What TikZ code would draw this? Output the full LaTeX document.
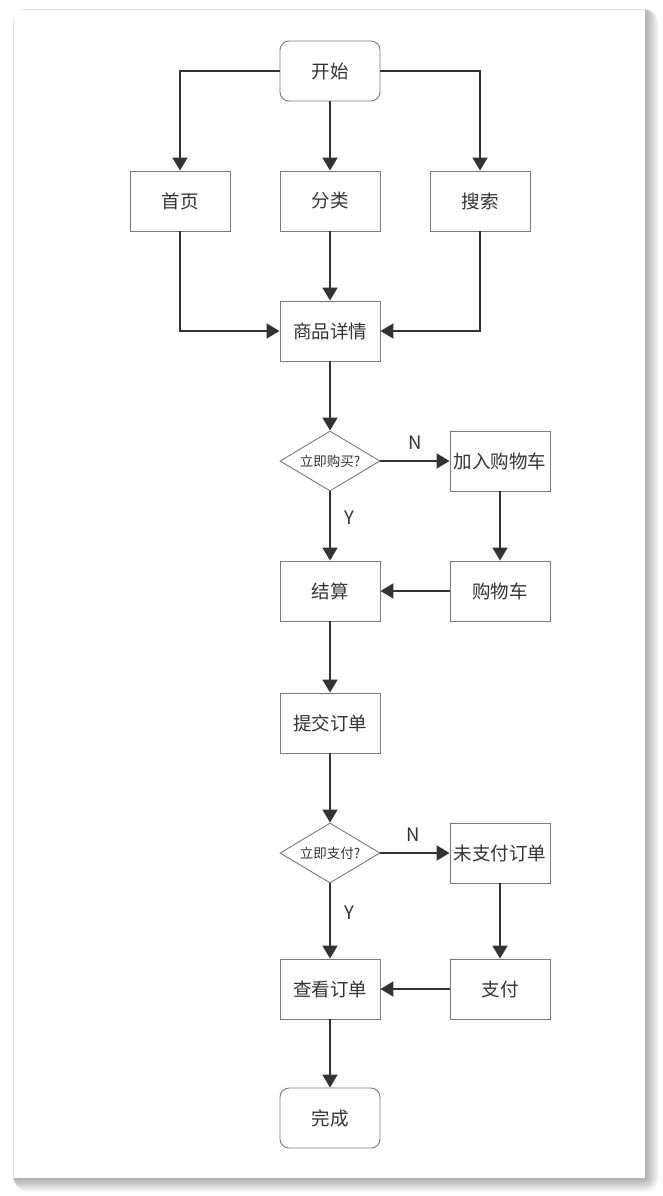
\documentclass[tikz,border=0pt]{standalone}
\usepackage{fontspec}
\setmainfont{Noto Sans CJK SC}
\usetikzlibrary{arrows.meta,shapes.geometric}
\definecolor{ln}{HTML}{333333}
\definecolor{bd}{HTML}{7A7A7A}
\tikzset{
  box/.style={draw=bd, line width=0.9pt, fill=white, minimum width=100pt, minimum height=60pt, inner sep=0pt, font=\fontsize{18.5pt}{20pt}\selectfont, text=ln},
  rbox/.style={box, rounded corners=9pt},
  dec/.style={draw=bd, line width=0.9pt, fill=white, shape=diamond, aspect=1.667, minimum width=100pt, minimum height=60pt, inner sep=0pt, font=\fontsize{13.5pt}{15pt}\selectfont, text=ln},
  conn/.style={draw=ln, line width=1.9pt, -{Triangle[length=13pt,width=15pt]}},
  lab/.style={font=\fontsize{18.5pt}{20pt}\selectfont, text=ln, inner sep=0pt}
}
\begin{document}
\begin{tikzpicture}[x=1pt,y=-1pt]
\useasboundingbox (0,0) rectangle (663,1196);
\fill[white] (0,0) rectangle (663,1196);
% card shadow
\foreach \i in {14,13,...,1}{
  \fill[black,opacity=0.022,rounded corners=\i pt] (14-\i*0.25+\i*0.2,10-\i*0.25+\i*0.2) rectangle (645+\i,1178+\i);
}
\fill[white] (14,10) rectangle (645,1178);
% nodes
\node[rbox] (start) at (330,71) {开始};
\node[box] (home) at (180,201) {首页};
\node[box] (cat) at (330,201) {分类};
\node[box] (search) at (480,201) {搜索};
\node[box] (detail) at (330,331) {商品详情};
\node[dec] (buy) at (330,461) {立即购买?};
\node[box] (addcart) at (500,461) {加入购物车};
\node[box] (settle) at (330,591) {结算};
\node[box] (cart) at (500,591) {购物车};
\node[box] (submit) at (330,723) {提交订单};
\node[dec] (pay) at (330,853) {立即支付?};
\node[box] (unpaid) at (500,853) {未支付订单};
\node[box] (view) at (330,989) {查看订单};
\node[box] (dopay) at (500,989) {支付};
\node[rbox] (done) at (330,1118) {完成};
% connectors
\draw[conn] (start.west) -| (home.north);
\draw[conn] (start.south) -- (cat.north);
\draw[conn] (start.east) -| (search.north);
\draw[conn] (home.south) |- (detail.west);
\draw[conn] (cat.south) -- (detail.north);
\draw[conn] (search.south) |- (detail.east);
\draw[conn] (detail.south) -- (buy.north);
\draw[conn] (buy.east) -- (addcart.west);
\draw[conn] (buy.south) -- (settle.north);
\draw[conn] (addcart.south) -- (cart.north);
\draw[conn] (cart.west) -- (settle.east);
\draw[conn] (settle.south) -- (submit.north);
\draw[conn] (submit.south) -- (pay.north);
\draw[conn] (pay.east) -- (unpaid.west);
\draw[conn] (pay.south) -- (view.north);
\draw[conn] (unpaid.south) -- (dopay.north);
\draw[conn] (dopay.west) -- (view.east);
\draw[conn] (view.south) -- (done.north);
% labels
\node[lab] (n1) at (415,443) {N};
\node[lab] (y1) at (349,518) {Y};
\node[lab] (n2) at (413,835) {N};
\node[lab] (y2) at (349,913) {Y};
\end{tikzpicture}
\end{document}
